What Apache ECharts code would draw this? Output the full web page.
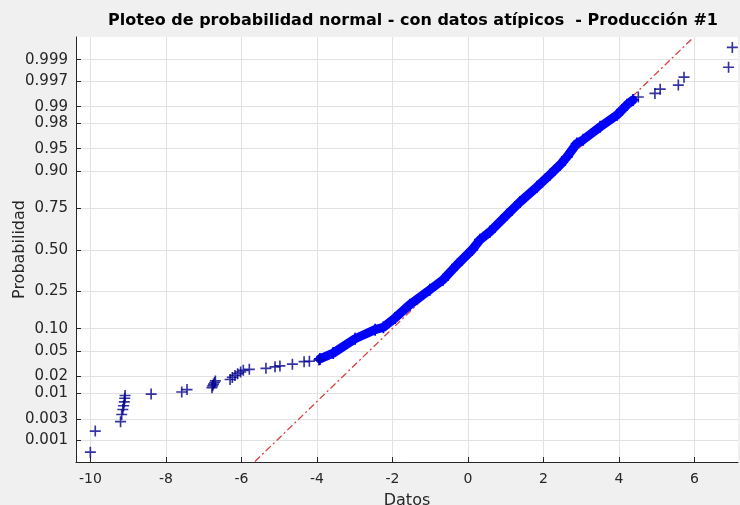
<!DOCTYPE html>
<html>
<head>
<meta charset="utf-8">
<script src="https://cdn.jsdelivr.net/npm/echarts@6/dist/echarts.min.js"></script>
<style>
html,body{margin:0;padding:0;background:#f0f0f0;}
#chart{width:740px;height:505px;}
</style>
</head>
<body>
<div id="chart"></div>
<script>
// ---- Datos ----
// Cola inferior (datos atípicos)
const colaInfDatos = [-10.00, -9.87, -9.20, -9.17, -9.14, -9.12, -9.10, -9.09, -9.08, -8.39, -7.58, -7.44,
  -6.78, -6.76, -6.74, -6.71, -6.69, -6.30, -6.24, -6.17, -6.10, -6.02, -5.95, -5.79, -5.35, -5.11,
  -4.98, -4.65, -4.34, -4.20, -3.95];
const colaInfProb = [0.0005, 0.0016, 0.0026, 0.0037, 0.0047, 0.0056, 0.0067, 0.0079, 0.0089, 0.0095, 0.0104, 0.0115,
  0.0125, 0.0135, 0.0145, 0.0155, 0.0165, 0.0175, 0.019, 0.0205, 0.022, 0.0235, 0.025, 0.026, 0.027, 0.0285,
  0.0295, 0.0315, 0.0345, 0.035, 0.0365];
// Zona central densa
const centroDatos = [-3.92, -3.57, -2.99, -2.46, -2.24, -1.93, -1.54, -1.01, -0.66, -0.29, 0.11, 0.32, 0.58,
  1.03, 1.38, 1.83, 2.17, 2.44, 2.62, 2.88, 3.05, 3.50, 3.95, 4.21, 4.37];
const centroProb = [0.038, 0.0465, 0.074, 0.097, 0.104, 0.134, 0.186, 0.258, 0.313, 0.404, 0.500, 0.565, 0.615,
  0.715, 0.782, 0.847, 0.889, 0.9165, 0.9347, 0.958, 0.9632, 0.9772, 0.9859, 0.9908, 0.9926];
// Cola superior
const colaSupDatos = [4.51, 4.95, 5.09, 5.57, 5.72, 6.90, 7.00];
const colaSupProb = [0.9935, 0.9945, 0.9955, 0.9963, 0.9975, 0.9985, 0.9995];
// Línea de referencia (extremos)
const refDatos = [-5.64, 5.95];
const refProb = [0.00029, 0.99971];
// Ejes
const probTicks = [0.001, 0.003, 0.01, 0.02, 0.05, 0.10, 0.25, 0.50, 0.75, 0.90, 0.95, 0.98, 0.99, 0.997, 0.999];
const probLabels = ['0.001', '0.003', '0.01', '0.02', '0.05', '0.10', '0.25', '0.50', '0.75', '0.90', '0.95', '0.98', '0.99', '0.997', '0.999'];
const xTicks = [-10, -8, -6, -4, -2, 0, 2, 4, 6];
const xMin = -10.38, xMax = 7.15;
const pMin = 0.00028, pMax = 0.99973;

// Escala de probabilidad normal (cuantil normal estándar)
function probit(p) {
  const a = [-3.969683028665376e+01, 2.209460984245205e+02, -2.759285104469687e+02, 1.383577518672690e+02, -3.066479806614716e+01, 2.506628277459239e+00];
  const b = [-5.447609879822406e+01, 1.615858368580409e+02, -1.556989798598866e+02, 6.680131188771972e+01, -1.328068155288572e+01];
  const c = [-7.784894002430293e-03, -3.223964580411365e-01, -2.400758277161838e+00, -2.549732539343734e+00, 4.374664141464968e+00, 2.938163982698783e+00];
  const d = [7.784695709041462e-03, 3.224671290700398e-01, 2.445134137142996e+00, 3.754408661907416e+00];
  const pl = 0.02425, ph = 1 - pl;
  let q, r;
  if (p < pl) {
    q = Math.sqrt(-2 * Math.log(p));
    return (((((c[0]*q+c[1])*q+c[2])*q+c[3])*q+c[4])*q+c[5]) / ((((d[0]*q+d[1])*q+d[2])*q+d[3])*q+1);
  }
  if (p > ph) {
    q = Math.sqrt(-2 * Math.log(1 - p));
    return -(((((c[0]*q+c[1])*q+c[2])*q+c[3])*q+c[4])*q+c[5]) / ((((d[0]*q+d[1])*q+d[2])*q+d[3])*q+1);
  }
  q = p - 0.5; r = q * q;
  return (((((a[0]*r+a[1])*r+a[2])*r+a[3])*r+a[4])*r+a[5])*q / (((((b[0]*r+b[1])*r+b[2])*r+b[3])*r+b[4])*r+1);
}
const pares = (xs, ps) => xs.map((x, i) => [x, probit(ps[i])]);
const zTicks = probTicks.map(probit);

const plusPath = 'path://M4.25,0 h1.5 v4.25 h4.25 v1.5 h-4.25 v4.25 h-1.5 v-4.25 h-4.25 v-1.5 h4.25 z';
const FONT = 'DejaVu Sans';
const AX = '#262626';
const GRID = '#e2e2e2';

const chart = echarts.init(document.getElementById('chart'), null, {renderer: 'canvas'});
chart.setOption({
  animation: false,
  backgroundColor: '#f0f0f0',
  title: {
    text: 'Ploteo de probabilidad normal - con datos atípicos  - Producción #1',
    left: 413, top: 13, textAlign: 'center', padding: 0,
    textStyle: {fontFamily: FONT, fontSize: 16, fontWeight: 'bold', color: '#000'}
  },
  grid: {left: 76, right: 2, top: 37, bottom: 43, show: true, backgroundColor: '#ffffff', borderWidth: 0,
    containLabel: false, outerBoundsMode: 'none'},
  xAxis: {
    type: 'value', min: xMin, max: xMax,
    name: 'Datos', nameLocation: 'middle', nameGap: 31, nameMoveOverlap: false,
    nameTextStyle: {fontFamily: FONT, fontSize: 16, color: AX},
    axisLine: {show: true, onZero: false, lineStyle: {color: AX, width: 1}},
    axisTick: {show: true, inside: true, length: 5, customValues: xTicks, lineStyle: {color: AX}},
    axisLabel: {customValues: xTicks, fontFamily: FONT, fontSize: 14, color: AX, margin: 10,
      formatter: v => String(Math.round(v))},
    splitLine: {show: true, lineStyle: {color: GRID, width: 1}}
  },
  yAxis: {
    type: 'value', min: probit(pMin), max: probit(pMax),
    name: 'Probabilidad', nameLocation: 'middle', nameGap: 48, nameRotate: 90, nameMoveOverlap: false,
    nameTextStyle: {fontFamily: FONT, fontSize: 16, color: AX},
    axisLine: {show: true, onZero: false, lineStyle: {color: AX, width: 1}},
    axisTick: {show: true, inside: true, length: 5, customValues: zTicks, lineStyle: {color: AX}},
    axisLabel: {customValues: zTicks, fontFamily: FONT, fontSize: 15, color: AX, margin: 8,
      formatter: v => {
        let best = 0;
        for (let i = 1; i < zTicks.length; i++) if (Math.abs(zTicks[i] - v) < Math.abs(zTicks[best] - v)) best = i;
        return probLabels[best];
      }},
    splitLine: {show: true, lineStyle: {color: GRID, width: 1}}
  },
  series: [
    {
      name: 'Referencia', type: 'line', z: 1, silent: true, showSymbol: false,
      data: pares(refDatos, refProb),
      lineStyle: {color: '#d94040', width: 1.3, type: [7, 3, 2, 3]}
    },
    {
      name: 'Centro', type: 'line', z: 3, silent: true,
      data: pares(centroDatos, centroProb),
      showAllSymbol: true, symbol: plusPath, symbolSize: 12,
      itemStyle: {color: '#0000ff'},
      lineStyle: {color: '#0000ff', width: 9, cap: 'round', join: 'round'}
    },
    {
      name: 'Cola inferior', type: 'scatter', z: 3, silent: true,
      data: pares(colaInfDatos, colaInfProb),
      symbol: plusPath, symbolSize: 11,
      itemStyle: {color: '#00008c'}
    },
    {
      name: 'Cola superior', type: 'scatter', z: 3, silent: true,
      data: pares(colaSupDatos, colaSupProb),
      symbol: plusPath, symbolSize: 11,
      itemStyle: {color: '#00008c'}
    }
  ]
});
</script>
</body>
</html>
